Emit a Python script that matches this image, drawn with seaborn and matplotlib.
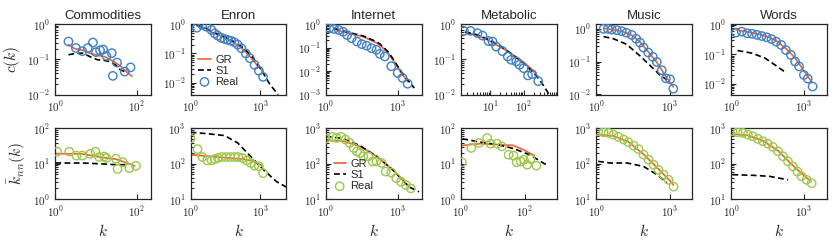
import numpy as np
import pandas as pd
import seaborn as sns
import matplotlib
matplotlib.use("Agg")
import matplotlib.pyplot as plt
from matplotlib.ticker import FixedLocator, NullLocator, LogLocator, FuncFormatter, NullFormatter

# ---- dane ----
nazwy = ["Commodities", "Enron", "Internet", "Metabolic", "Music", "Words"]

# c(k) -- gorny wiersz
comm_c_real_k = [2.1, 3.2, 4.6, 6.3, 8.4, 10, 12.6, 15, 18, 24.5, 26, 33, 51, 71]
comm_c_real = [0.32, 0.21, 0.17, 0.21, 0.30, 0.16, 0.18, 0.19, 0.125, 0.15, 0.034, 0.081, 0.045, 0.059]
comm_c_gr_k = [2.1, 3.0, 4.8, 7, 11, 16, 22, 31, 40, 50, 77]
comm_c_gr = [0.26, 0.20, 0.18, 0.15, 0.13, 0.12, 0.10, 0.078, 0.065, 0.05, 0.033]
comm_c_s1_k = [2.1, 3.0, 4.8, 7, 11, 15, 21, 30, 40, 51]
comm_c_s1 = [0.135, 0.145, 0.15, 0.12, 0.097, 0.095, 0.087, 0.07, 0.05, 0.045]

enron_c_real_k = [1.85, 3.2, 4.9, 7.9, 11, 15, 21, 29, 40, 55, 77, 107, 155, 240, 360, 570, 870, 1320]
enron_c_real = [0.75, 0.93, 0.81, 0.63, 0.48, 0.40, 0.34, 0.31, 0.29, 0.27, 0.24, 0.20, 0.15, 0.10, 0.069, 0.041, 0.026, 0.016]
enron_c_gr_k = [1.85, 4, 8, 20, 40, 100, 200, 400, 700, 1300]
enron_c_gr = [0.88, 0.75, 0.53, 0.39, 0.31, 0.20, 0.13, 0.072, 0.042, 0.024]
enron_c_s1_k = [1.85, 4, 7.9, 20, 40, 100, 200, 500, 1000, 2700, 6000]
enron_c_s1 = [0.92, 0.78, 0.56, 0.41, 0.33, 0.22, 0.15, 0.07, 0.032, 0.0085, 0.004]

inet_c_real_k = [1.4, 2.2, 3.5, 5.3, 7.8, 12, 20, 32, 51, 81, 130, 180, 290, 540, 1000, 1600, 2600]
inet_c_real = [0.66, 0.62, 0.56, 0.47, 0.34, 0.25, 0.18, 0.14, 0.12, 0.094, 0.080, 0.054, 0.042, 0.016, 0.0083, 0.0051, 0.0029]
inet_c_gr_k = [2.2, 5, 12, 37, 100, 180, 400, 630, 1400, 2600]
inet_c_gr = [0.60, 0.48, 0.38, 0.29, 0.18, 0.13, 0.058, 0.030, 0.0083, 0.0036]
inet_c_s1_k = [2.2, 5, 12, 37, 100, 180, 400, 630, 1400, 2600, 4900]
inet_c_s1 = [0.66, 0.52, 0.41, 0.31, 0.20, 0.145, 0.066, 0.034, 0.0095, 0.0042, 0.0019]

metab_c_real_k = [1.65, 2.6, 4.2, 5.9, 8.9, 11.7, 15, 23, 33, 42, 59, 74, 98, 132, 175, 265]
metab_c_real = [0.64, 0.64, 0.55, 0.47, 0.33, 0.32, 0.23, 0.17, 0.12, 0.097, 0.087, 0.07, 0.056, 0.035, 0.038, 0.024]
metab_c_gr_k = [1.8, 4, 8, 19, 40, 93, 160, 260]
metab_c_gr = [0.58, 0.48, 0.36, 0.23, 0.15, 0.087, 0.055, 0.033]
metab_c_s1_k = [1.8, 4, 8, 19, 40, 93, 160, 260, 400, 600]
metab_c_s1 = [0.60, 0.50, 0.38, 0.25, 0.15, 0.08, 0.05, 0.03, 0.017, 0.009]

music_c_real_k = [2.0, 3.0, 4.3, 6.9, 11, 17, 28, 42, 60, 83, 130, 200, 290, 460, 680, 1000, 1350]
music_c_real = [1.0, 1.0, 0.95, 0.91, 0.85, 0.76, 0.65, 0.50, 0.38, 0.27, 0.19, 0.14, 0.098, 0.055, 0.031, 0.029, 0.015]
music_c_gr_k = [2.0, 4.3, 11, 28, 60, 130, 290, 680, 1350]
music_c_gr = [1.03, 0.96, 0.85, 0.64, 0.40, 0.20, 0.095, 0.035, 0.017]
music_c_s1_k = [2.0, 5, 17, 60, 150, 390, 730]
music_c_s1 = [0.58, 0.50, 0.34, 0.15, 0.078, 0.039, 0.028]

words_c_real_k = [1.55, 2.7, 4.5, 7.2, 11.4, 18, 29, 46, 72, 115, 180, 290, 435, 630, 1000, 1450, 2300]
words_c_real = [0.55, 0.59, 0.52, 0.50, 0.46, 0.42, 0.38, 0.33, 0.27, 0.21, 0.14, 0.096, 0.057, 0.039, 0.020, 0.015, 0.0081]
words_c_gr_k = [1.55, 4.5, 11.4, 29, 72, 180, 435, 1000, 2200]
words_c_gr = [0.68, 0.58, 0.50, 0.41, 0.29, 0.16, 0.075, 0.028, 0.011]
words_c_s1_k = [1.8, 7.2, 25, 63, 180]
words_c_s1 = [0.135, 0.11, 0.074, 0.044, 0.024]

# knn(k) -- dolny wiersz
comm_k_real_k = [1.1, 2.2, 3.3, 4.6, 7.2, 9.7, 12, 16, 18, 31, 34, 46, 66, 96]
comm_k_real = [22, 22, 17, 17, 19, 22, 15.5, 16, 14.5, 13.9, 7.1, 11, 7.5, 8.7]
comm_k_gr_k = [1.0, 4.6, 12, 31, 77, 90]
comm_k_gr = [19.3, 19, 15.5, 13.5, 9.4, 8.6]
comm_k_s1_k = [1.0, 4.6, 12, 31, 58]
comm_k_s1 = [10.5, 10.5, 10, 9.4, 9.4]

enron_k_real_k = [1.0, 2.0, 3.2, 5.2, 8, 11, 15, 22, 34, 52, 79, 113, 172, 265, 390, 570, 870, 1320]
enron_k_real = [515, 260, 155, 124, 124, 135, 145, 155, 155, 155, 155, 155, 145, 124, 105, 88, 85, 54]
enron_k_gr_k = [1.0, 5, 50, 190, 540, 1200]
enron_k_gr = [180, 165, 145, 135, 117, 88]
enron_k_s1_k = [1.0, 4.2, 29, 107, 390, 1400, 5100, 13000]
enron_k_s1 = [780, 720, 630, 390, 160, 67, 31, 22]

inet_k_real_k = [1.0, 1.9, 2.8, 4.4, 6.6, 10, 14.5, 20, 27, 37, 60, 90, 130, 210, 316, 540, 870, 1380, 2200, 3550]
inet_k_real = [515, 580, 540, 580, 485, 390, 280, 225, 200, 163, 163, 116, 116, 105, 60, 56, 39, 31, 25, 20]
inet_k_gr_k = [1.0, 5.6, 27, 130, 630, 3000]
inet_k_gr = [465, 435, 310, 163, 67, 22.5]
inet_k_s1_k = [1.0, 5.6, 27, 130, 630, 3000, 7800]
inet_k_s1 = [600, 515, 325, 163, 67, 22, 16]

metab_k_real_k = [1.07, 2.1, 3.7, 6.6, 8.4, 13.5, 19, 31, 44, 55, 74, 93, 118, 150, 230]
metab_k_real = [11, 28, 39, 54, 37, 37, 31, 18, 17, 11, 11.6, 13, 9.4, 13.6, 8.8]
metab_k_gr_k = [1.1, 4.1, 44, 89, 200]
metab_k_gr = [33, 37, 33, 25, 17]
metab_k_s1_k = [1.1, 4.1, 13.5, 44, 140, 520]
metab_k_s1 = [51, 41, 35, 27, 18, 8.8]

music_k_real_k = [1.2, 2, 3.2, 5, 8, 13, 20, 33, 52, 84, 134, 214, 340, 545, 870, 1380]
music_k_real = [830, 780, 750, 670, 580, 485, 410, 325, 260, 180, 130, 94, 67, 49, 35, 22.5]
music_k_gr_k = [1.2, 5, 20, 84, 340, 870, 1380]
music_k_gr = [670, 620, 420, 185, 70, 36, 25]
music_k_s1_k = [1.2, 3.7, 18, 84, 295, 740]
music_k_s1 = [117, 105, 105, 84, 49, 29]

words_k_real_k = [1.1, 1.8, 3, 4.8, 7.7, 12.5, 20, 32, 52, 85, 137, 220, 355, 545, 800, 1300, 2100]
words_k_real = [830, 780, 750, 670, 600, 510, 435, 370, 300, 225, 163, 117, 84, 60, 44, 35, 28]
words_k_gr_k = [1.1, 4.8, 20, 85, 355, 1300, 2000]
words_k_gr = [690, 640, 450, 235, 88, 40, 31]
words_k_s1_k = [1.1, 7.7, 38, 220]
words_k_s1 = [49, 47, 44, 35]

gorny = [
    (comm_c_real_k, comm_c_real, comm_c_gr_k, comm_c_gr, comm_c_s1_k, comm_c_s1),
    (enron_c_real_k, enron_c_real, enron_c_gr_k, enron_c_gr, enron_c_s1_k, enron_c_s1),
    (inet_c_real_k, inet_c_real, inet_c_gr_k, inet_c_gr, inet_c_s1_k, inet_c_s1),
    (metab_c_real_k, metab_c_real, metab_c_gr_k, metab_c_gr, metab_c_s1_k, metab_c_s1),
    (music_c_real_k, music_c_real, music_c_gr_k, music_c_gr, music_c_s1_k, music_c_s1),
    (words_c_real_k, words_c_real, words_c_gr_k, words_c_gr, words_c_s1_k, words_c_s1),
]
dolny = [
    (comm_k_real_k, comm_k_real, comm_k_gr_k, comm_k_gr, comm_k_s1_k, comm_k_s1),
    (enron_k_real_k, enron_k_real, enron_k_gr_k, enron_k_gr, enron_k_s1_k, enron_k_s1),
    (inet_k_real_k, inet_k_real, inet_k_gr_k, inet_k_gr, inet_k_s1_k, inet_k_s1),
    (metab_k_real_k, metab_k_real, metab_k_gr_k, metab_k_gr, metab_k_s1_k, metab_k_s1),
    (music_k_real_k, music_k_real, music_k_gr_k, music_k_gr, music_k_s1_k, music_k_s1),
    (words_k_real_k, words_k_real, words_k_gr_k, words_k_gr, words_k_s1_k, words_k_s1),
]

# zakresy osi
xlim_gora = [(1, 230), (1, 13500), (1, 10000), (1.35, 950), (1, 7800), (1, 9300)]
ylim_gora = [(0.01, 1), (0.004, 1), (0.001, 1), (0.01, 1), (0.0099, 1.4), (0.0043, 1.07)]
yticks_gora = [[-2, -1, 0], [-2, -1, 0], [-3, -2, -1, 0], [-2, -1, 0], [-2, -1, 0], [-2, -1, 0]]
xlim_dol = [(1, 230), (1, 13500), (1, 10000), (1, 1000), (1, 7800), (1, 9300)]
ylim_dol = [(1, 100), (10, 1000), (10, 1000), (1, 100), (10, 1000), (10, 1000)]
yticks_dol = [[0, 1, 2], [1, 2, 3], [1, 2, 3], [0, 1, 2], [1, 2, 3], [1, 2, 3]]
xticks = [[0, 2], [0, 3], [0, 3], [0, 1, 2], [0, 3], [0, 3]]

KOLOR_GR = "#f4602f"
KOLOR_NIEB = "#3f80c6"
KOLOR_ZIEL = "#9cc84b"

sns.set_style("ticks")
plt.rcParams["font.family"] = ["Liberation Sans", "DejaVu Sans"]
plt.rcParams["mathtext.fontset"] = "cm"

fmt = FuncFormatter(lambda v, p: r"$10^{%d}$" % int(round(np.log10(v))))


def panel(ax, dane, kolor, xl, yl, yt, xt, minor_x=False):
    rk, r, gk, g, sk, s = dane
    ax.set_xscale("log")
    ax.set_yscale("log")
    sns.lineplot(x=gk, y=g, ax=ax, color=KOLOR_GR, lw=1.2, label="GR")
    sns.lineplot(x=sk, y=s, ax=ax, color="black", lw=1.2, linestyle=(0, (3.5, 2)), label="S1")
    sns.scatterplot(x=rk, y=r, ax=ax, marker="o", s=36, color=kolor, facecolor="none",
                    edgecolor=kolor, linewidth=1.0, label="Real", zorder=3)
    ax.set_xlim(*xl)
    ax.set_ylim(*yl)
    ax.xaxis.set_major_locator(FixedLocator([10.0 ** t for t in xt]))
    ax.yaxis.set_major_locator(FixedLocator([10.0 ** t for t in yt]))
    ax.xaxis.set_major_formatter(fmt)
    ax.yaxis.set_major_formatter(fmt)
    if minor_x:
        ax.xaxis.set_minor_locator(LogLocator(subs=np.arange(2, 10)))
    else:
        ax.xaxis.set_minor_locator(NullLocator())
    ax.yaxis.set_minor_locator(LogLocator(subs=np.arange(2, 10), numticks=20))
    ax.xaxis.set_minor_formatter(NullFormatter())
    ax.yaxis.set_minor_formatter(NullFormatter())
    ax.tick_params(which="both", direction="in", labelsize=8, width=0.8)
    ax.tick_params(which="major", length=3.5)
    ax.tick_params(which="minor", length=2)
    for sp in ax.spines.values():
        sp.set_linewidth(0.9)
    ax.set_xlabel("")
    ax.set_ylabel("")


fig, axes = plt.subplots(2, 6, figsize=(8.39, 2.43), dpi=100)
plt.subplots_adjust(left=0.066, right=0.986, top=0.901, bottom=0.181, wspace=0.41, hspace=0.48)

for i in range(6):
    panel(axes[0, i], gorny[i], KOLOR_NIEB, xlim_gora[i], ylim_gora[i], yticks_gora[i], xticks[i],
          minor_x=(i == 3))
    panel(axes[1, i], dolny[i], KOLOR_ZIEL, xlim_dol[i], ylim_dol[i], yticks_dol[i],
          xticks[i] if i != 3 else [0, 2])
    axes[0, i].set_title(nazwy[i], fontsize=9.5, pad=4)
    axes[1, i].set_xlabel("$k$", fontsize=11, labelpad=3)

for ax in axes.flat:
    leg = ax.get_legend()
    if leg is not None:
        leg.remove()

for ax in [axes[0, 1], axes[1, 2]]:
    ax.legend(loc="lower left", frameon=False, fontsize=8, handlelength=1.1,
              handletextpad=0.4, labelspacing=0.1, borderaxespad=0.3,
              bbox_to_anchor=(0.0, 0.0))

axes[0, 0].set_ylabel("$c(k)$", fontsize=11)
axes[1, 0].set_ylabel(r"$\bar{k}_{nn}(k)$", fontsize=11)

plt.savefig("out.png", dpi=100)
